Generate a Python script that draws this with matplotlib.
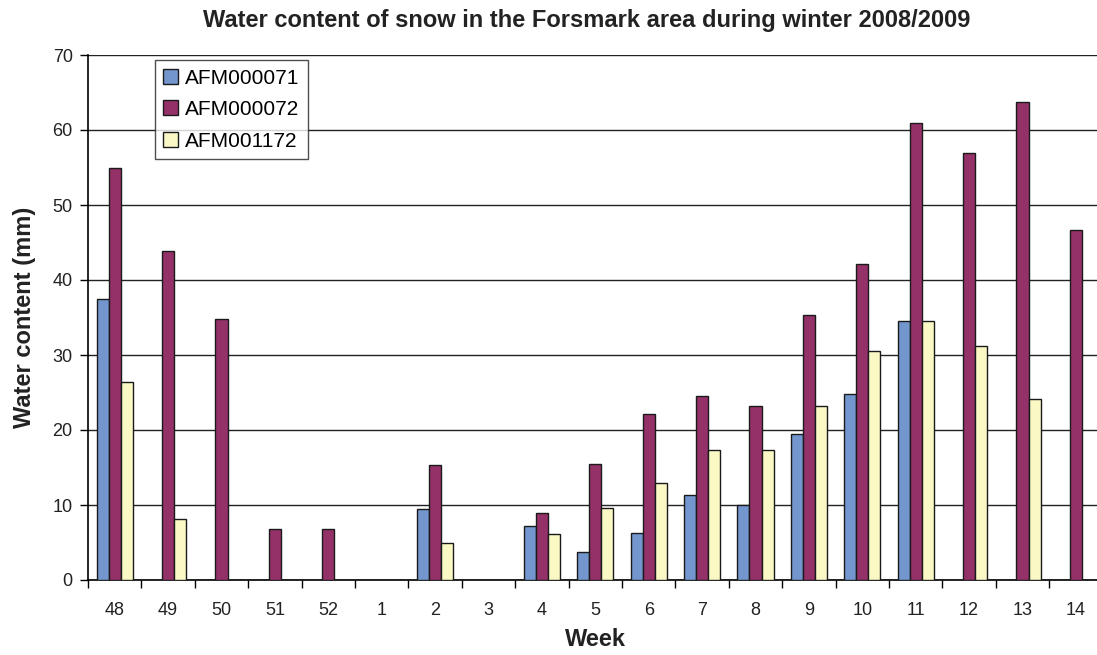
import matplotlib
matplotlib.use("Agg")
import matplotlib.pyplot as plt
import numpy as np

weeks = ["48", "49", "50", "51", "52", "1", "2", "3", "4", "5",
         "6", "7", "8", "9", "10", "11", "12", "13", "14"]
afm071 = [37.5, 0, 0, 0, 0, 0, 9.5, 0, 7.2, 3.8, 6.3, 11.4, 10.0, 19.5, 24.8, 34.5, 0, 0, 0]
afm072 = [55.0, 43.9, 34.8, 6.8, 6.8, 0, 15.3, 0, 9.0, 15.5, 22.1, 24.6, 23.2, 35.3, 42.2, 60.9, 57.0, 63.8, 46.7]
afm1172 = [26.4, 8.1, 0, 0, 0, 0, 4.9, 0, 6.2, 9.6, 12.9, 17.3, 17.4, 23.2, 30.5, 34.6, 31.2, 24.1, 0]

series = [("AFM000071", afm071, "#7396CE"),
          ("AFM000072", afm072, "#943168"),
          ("AFM001172", afm1172, "#FAF8C4")]

plt.rcParams['font.family'] = ['Liberation Sans', 'DejaVu Sans']
narrow = ['Liberation Sans Narrow', 'Liberation Sans', 'DejaVu Sans']

fig = plt.figure(figsize=(10.97, 6.55), dpi=100)
W, H = 1097, 655
left, top, bottom = 88, 55, 580
cat_w = 53.4
ax = fig.add_axes([left / W, 1 - bottom / H, cat_w * 19 / W, (bottom - top) / H])

x = np.arange(len(weeks))
bw = 0.227
for i, (name, vals, col) in enumerate(series):
    ax.bar(x + (i - 1) * bw, vals, bw, color=col, edgecolor='#1a1a1a',
           linewidth=1.0, label=name, zorder=3)

ax.set_xlim(-0.5, len(weeks) - 0.5)
ax.set_ylim(0, 70)
ax.set_yticks(range(0, 71, 10))
ax.yaxis.grid(True, color='#222222', linewidth=1.0, zorder=0)
ax.set_axisbelow(True)

ax.set_xticks(x)
ax.set_xticklabels(weeks, fontsize=13, family=narrow, color='#222222')
ax.set_xticks(np.arange(-0.5, len(weeks), 1), minor=True)
ax.tick_params(axis='x', which='major', length=0, pad=16)
ax.tick_params(axis='x', which='minor', length=6, width=1, direction='out')
ax.tick_params(axis='y', length=6, width=1, direction='out', labelsize=13,
               labelcolor='#222222', pad=5)
for lab in ax.get_yticklabels():
    lab.set_family(narrow)

for s in ['top', 'right']:
    ax.spines[s].set_visible(False)
ax.spines['left'].set_linewidth(1.2)
ax.spines['bottom'].set_linewidth(1.2)

ax.set_xlabel("Week", fontsize=17, fontweight='bold', labelpad=6, color='#222222')
ax.set_ylabel("Water content (mm)", fontsize=17, fontweight='bold', labelpad=12, color='#222222')
fig.text(0.535, 0.969, "Water content of snow in the Forsmark area during winter 2008/2009",
         ha='center', va='center', fontsize=17, fontweight='bold', color='#222222')

leg = ax.legend(loc='upper left', bbox_to_anchor=(0.066, 0.99), fontsize=15,
                frameon=True, fancybox=False, edgecolor='#222222',
                handlelength=0.7, handleheight=0.7, handletextpad=0.35,
                borderpad=0.4, labelspacing=0.6, borderaxespad=0)
leg.get_frame().set_linewidth(1.0)

fig.savefig("out.png", dpi=100)
